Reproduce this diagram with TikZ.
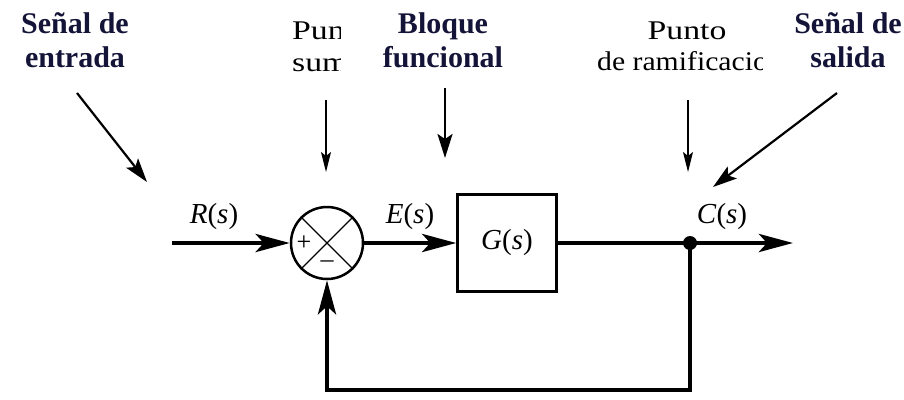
\documentclass[tikz,border=0pt]{standalone}
\usepackage{fontspec}
\setmainfont{Liberation Serif}
\usepackage{graphicx}
\usetikzlibrary{arrows.meta,positioning}
\definecolor{labelnavy}{rgb}{0.08,0.08,0.22}
\newcommand{\sig}[1]{\textit{#1}(\textit{s})}
\newcommand{\widetext}[1]{\scalebox{1.25}[1]{#1}}

\begin{document}
\begin{tikzpicture}[x=1pt,y=-1pt,
  signal/.style={line width=4.5pt,-{Stealth[length=34pt,width=18pt,inset=8pt]}},
  wire/.style={line width=4.5pt},
  pointer/.style={line width=2.2pt,-{Stealth[length=24pt,width=15pt,inset=5pt]}},
  thinpointer/.style={line width=1.4pt,-{Stealth[length=20pt,width=10pt,inset=4pt]}},
  boldlabel/.style={font=\fontsize{30}{34}\selectfont\bfseries,text=labelnavy,align=center,anchor=base},
  plainlabel/.style={font=\fontsize{27}{30}\selectfont,anchor=base west,inner sep=0pt},
  siglabel/.style={font=\fontsize{29}{32}\selectfont,anchor=base}]

\useasboundingbox (0,0) rectangle (904,399);

% summing point and block
\node[circle,draw,line width=2.5pt,minimum size=72pt,inner sep=0pt] (sum) at (327,243) {};
\draw[line width=1.3pt] (sum.north west) -- (sum.south east);
\draw[line width=1.3pt] (sum.north east) -- (sum.south west);
\node[font=\fontsize{26}{26}\selectfont] (plus) at (304,243) {+};
\node[font=\fontsize{26}{26}\selectfont] (minus) at (327,264) {\textendash};
\node[draw,line width=2.5pt,minimum width=99pt,minimum height=97pt,font=\fontsize{29}{32}\selectfont] (block) at (507,243) {\sig{G}};

\coordinate (input) at (172,243);
\coordinate (branch) at (690,243);
\coordinate (output) at (793,243);
\coordinate (corner) at (690,390);

% signal lines
\draw[signal] (input) -- (sum.west);
\draw[signal] (sum.east) -- (block.west);
\draw[wire] (block.east) -- (branch);
\draw[signal] (branch) -- (output);
\draw[signal] (branch) -- (corner) -| (sum.south);
\fill (branch) circle (7pt);

\node[siglabel] (rlabel) at (214,223) {\sig{R}};
\node[siglabel] (elabel) at (410,223) {\sig{E}};
\node[siglabel] (clabel) at (722,223) {\sig{C}};

% names on top
\node[boldlabel] (inputname) at (75,67) {Señal de\\entrada};
\node[boldlabel] (blockname) at (443,67) {Bloque\\funcional};
\node[boldlabel] (outputname) at (848,67) {Señal de\\salida};

\begin{scope}
\clip (280,0) rectangle (340,90);
\node[plainlabel] (sumname) at (292,39) {\widetext{Pun}};
\node[plainlabel] (sumname2) at (292,71) {\widetext{sum}};
\end{scope}
\node[plainlabel,anchor=base] (branchname) at (687,39) {\widetext{Punto}};
\begin{scope}
\clip (580,45) rectangle (762,90);
\node[plainlabel] (branchname2) at (597,70) {\scalebox{1.1}[1]{de ramificacio}};
\end{scope}

% pointers
\coordinate (inputtail) at (77,93);
\coordinate (inputtip) at (147,182);
\coordinate (sumtail) at (326,100);
\coordinate (sumtip) at (326,172);
\coordinate (blocktail) at (445,88);
\coordinate (blocktip) at (445,158);
\coordinate (branchtail) at (688,100);
\coordinate (branchtip) at (688,172);
\coordinate (outputtail) at (837,93);
\coordinate (outputtip) at (713,187);

\draw[pointer] (inputtail) -- (inputtip);
\draw[thinpointer] (sumtail) -- (sumtip);
\draw[pointer] (blocktail) -- (blocktip);
\draw[thinpointer] (branchtail) -- (branchtip);
\draw[pointer] (outputtail) -- (outputtip);

\end{tikzpicture}
\end{document}
